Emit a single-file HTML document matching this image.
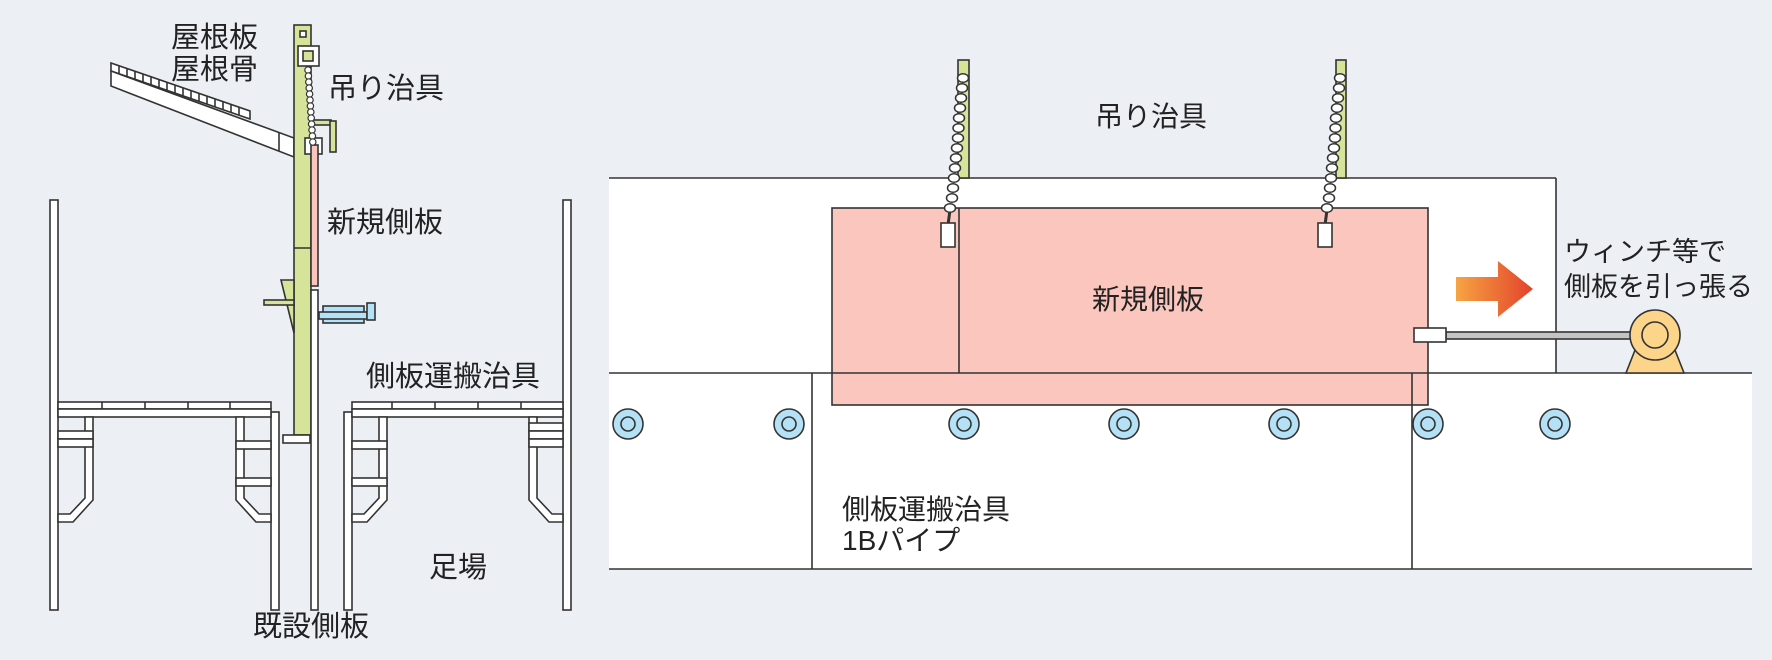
<!DOCTYPE html>
<html><head><meta charset="utf-8"><style>
html,body{margin:0;padding:0;background:#ecf0f5;}
svg{display:block;}
text{font-family:"Liberation Sans","Noto Sans CJK JP",sans-serif;fill:#222;}
</style></head><body>
<svg width="1772" height="660" viewBox="0 0 1772 660" xmlns="http://www.w3.org/2000/svg">
<defs>
<linearGradient id="ag" x1="0" x2="1" y1="0" y2="0"><stop offset="0" stop-color="#f6a443"/><stop offset="1" stop-color="#e2432a"/></linearGradient>
</defs>
<rect width="1772" height="660" fill="#ecf0f5"/>
<g stroke="#333" stroke-width="1.6">
<polygon points="111,63 250,111 250,119 111,71" fill="#fff"/>
<g fill="none">
<line x1="119" y1="66" x2="119" y2="74"/><line x1="127" y1="69" x2="127" y2="77"/><line x1="135" y1="71" x2="135" y2="79"/><line x1="143" y1="74" x2="143" y2="82"/><line x1="151" y1="77" x2="151" y2="85"/><line x1="159" y1="80" x2="159" y2="88"/><line x1="167" y1="82" x2="167" y2="90"/><line x1="175" y1="85" x2="175" y2="93"/><line x1="183" y1="88" x2="183" y2="96"/><line x1="191" y1="91" x2="191" y2="99"/><line x1="199" y1="93" x2="199" y2="101"/><line x1="207" y1="96" x2="207" y2="104"/><line x1="215" y1="99" x2="215" y2="107"/><line x1="223" y1="102" x2="223" y2="110"/><line x1="231" y1="104" x2="231" y2="112"/><line x1="239" y1="107" x2="239" y2="115"/>
</g>
<polygon points="111,71 294,138 294,157 111,86" fill="#fff"/>
<line x1="279" y1="133" x2="279" y2="151"/>
<rect x="294" y="25" width="17" height="410" fill="#d6e49a"/>
<line x1="294" y1="248" x2="311" y2="248"/>
<rect x="300" y="31" width="6" height="6" fill="#fff"/>
<rect x="298" y="46" width="21" height="20" fill="#fff"/>
<rect x="303" y="51" width="10" height="10" fill="#d6e49a"/>
<rect x="311" y="120" width="20" height="5" fill="#d6e49a"/>
<rect x="330" y="121" width="6" height="31" fill="#d6e49a"/>
<rect x="305" y="138" width="17" height="16" fill="#fff"/>
<rect x="311" y="145" width="7" height="141" fill="#f9c5bd"/>
<g fill="#fff" stroke-width="1.2">
<circle cx="308" cy="70" r="3.2"/><circle cx="308.4" cy="76" r="3.2"/><circle cx="308.8" cy="82" r="3.2"/><circle cx="309.2" cy="88" r="3.2"/><circle cx="309.6" cy="94" r="3.2"/><circle cx="310" cy="100" r="3.2"/><circle cx="310.4" cy="106" r="3.2"/><circle cx="310.8" cy="112" r="3.2"/><circle cx="311.2" cy="118" r="3.2"/><circle cx="311.6" cy="124" r="3.2"/><circle cx="312" cy="130" r="3.2"/><circle cx="312.4" cy="136" r="3.2"/><circle cx="312.8" cy="142" r="3.2"/>
</g>
<rect x="311" y="290" width="7" height="320" fill="#fff"/>
<polygon points="281,280 294,280 294,333" fill="#d6e49a"/>
<rect x="264" y="300" width="30" height="5" fill="#d6e49a"/>
<rect x="323" y="306" width="41" height="17" fill="#b5e1f6"/>
<rect x="319" y="312" width="48" height="7" fill="#b5e1f6"/>
<rect x="367" y="303" width="8" height="17" fill="#b5e1f6"/>
<rect x="283" y="435" width="27" height="8" fill="#fff"/>
<g fill="#fff">
<rect x="50" y="200" width="8" height="410"/>
<rect x="271" y="412" width="8" height="198"/>
<rect x="58" y="402" width="213" height="7"/>
<rect x="58" y="409" width="213" height="8"/>
<line x1="102" y1="402" x2="102" y2="409"/><line x1="145" y1="402" x2="145" y2="409"/><line x1="188" y1="402" x2="188" y2="409"/><line x1="230" y1="402" x2="230" y2="409"/>
<path d="M85,417 H93 V500 L73,522 H58 V514 H70 L85,498 Z"/>
<rect x="58" y="431" width="35" height="8"/><rect x="58" y="439" width="35" height="8"/>
<path d="M236,417 H244 V498 L259,514 H271 V522 H256 L236,500 Z"/>
<rect x="236" y="441" width="35" height="8"/><rect x="236" y="478" width="35" height="8"/>
<rect x="563" y="200" width="8" height="410"/>
<rect x="344" y="412" width="8" height="198"/>
<rect x="352" y="402" width="211" height="7"/>
<rect x="352" y="409" width="211" height="8"/>
<line x1="392" y1="402" x2="392" y2="409"/><line x1="435" y1="402" x2="435" y2="409"/><line x1="478" y1="402" x2="478" y2="409"/><line x1="521" y1="402" x2="521" y2="409"/>
<path d="M379,417 H387 V500 L367,522 H352 V514 H364 L379,498 Z"/>
<rect x="352" y="441" width="35" height="8"/><rect x="352" y="478" width="35" height="8"/>
<path d="M529,417 H537 V498 L552,514 H563 V522 H549 L529,500 Z"/>
<rect x="529" y="423" width="34" height="8"/><rect x="529" y="431" width="34" height="8"/><rect x="529" y="439" width="34" height="8"/>
</g>
</g>
<g font-size="29">
<text x="171" y="47">屋根板</text>
<text x="171" y="79">屋根骨</text>
<text x="328" y="98">吊り治具</text>
<text x="327" y="232">新規側板</text>
<text x="366" y="386">側板運搬治具</text>
<text x="429" y="577">足場</text>
<text x="253" y="636">既設側板</text>
</g>

<g stroke="#333" stroke-width="1.6">
<rect x="609" y="178" width="947" height="195" fill="#fff" stroke="none"/>
<rect x="609" y="373" width="1143" height="196" fill="#fff" stroke="none"/>
<line x1="609" y1="178" x2="1556" y2="178"/>
<line x1="1556" y1="178" x2="1556" y2="373"/>
<rect x="832" y="208" width="596" height="197" fill="#fbc6be"/>
<line x1="959" y1="208" x2="959" y2="373"/>
<line x1="609" y1="373" x2="1752" y2="373"/>
<line x1="609" y1="569" x2="1752" y2="569"/>
<line x1="812" y1="373" x2="812" y2="569"/>
<line x1="1412" y1="373" x2="1412" y2="569"/>
<rect x="958" y="60" width="11" height="118" fill="#d6e49a"/>
<rect x="1336" y="60" width="10" height="118" fill="#d6e49a"/>
<line x1="950" y1="210" x2="948" y2="225" stroke-width="3"/>
<line x1="1327" y1="210" x2="1325" y2="225" stroke-width="3"/>
<rect x="941" y="223" width="14" height="24" fill="#fff"/>
<rect x="1318" y="223" width="14" height="24" fill="#fff"/>
<g fill="#fff" stroke-width="1.5">
<ellipse cx="963" cy="78" rx="5.5" ry="4.3"/><ellipse cx="962" cy="88" rx="5.5" ry="4.3"/><ellipse cx="961" cy="98" rx="5.5" ry="4.3"/><ellipse cx="960" cy="108" rx="5.5" ry="4.3"/><ellipse cx="959" cy="118" rx="5.5" ry="4.3"/><ellipse cx="958.5" cy="128" rx="5.5" ry="4.3"/><ellipse cx="958" cy="138" rx="5.5" ry="4.3"/><ellipse cx="957" cy="148" rx="5.5" ry="4.3"/><ellipse cx="956" cy="158" rx="5.5" ry="4.3"/><ellipse cx="955" cy="168" rx="5.5" ry="4.3"/><ellipse cx="954" cy="178" rx="5.5" ry="4.3"/><ellipse cx="953" cy="188" rx="5.5" ry="4.3"/><ellipse cx="952" cy="198" rx="5.5" ry="4.3"/><ellipse cx="950" cy="208" rx="5.5" ry="4.3"/>
<ellipse cx="1340" cy="78" rx="5.5" ry="4.3"/><ellipse cx="1339" cy="88" rx="5.5" ry="4.3"/><ellipse cx="1338" cy="98" rx="5.5" ry="4.3"/><ellipse cx="1337" cy="108" rx="5.5" ry="4.3"/><ellipse cx="1336" cy="118" rx="5.5" ry="4.3"/><ellipse cx="1335.5" cy="128" rx="5.5" ry="4.3"/><ellipse cx="1335" cy="138" rx="5.5" ry="4.3"/><ellipse cx="1334" cy="148" rx="5.5" ry="4.3"/><ellipse cx="1333" cy="158" rx="5.5" ry="4.3"/><ellipse cx="1332" cy="168" rx="5.5" ry="4.3"/><ellipse cx="1331" cy="178" rx="5.5" ry="4.3"/><ellipse cx="1330" cy="188" rx="5.5" ry="4.3"/><ellipse cx="1329" cy="198" rx="5.5" ry="4.3"/><ellipse cx="1327" cy="208" rx="5.5" ry="4.3"/>
</g>
<g fill="#b5e1f6">
<circle cx="628" cy="424" r="15"/><circle cx="628" cy="424" r="7"/>
<circle cx="789" cy="424" r="15"/><circle cx="789" cy="424" r="7"/>
<circle cx="964" cy="424" r="15"/><circle cx="964" cy="424" r="7"/>
<circle cx="1124" cy="424" r="15"/><circle cx="1124" cy="424" r="7"/>
<circle cx="1284" cy="424" r="15"/><circle cx="1284" cy="424" r="7"/>
<circle cx="1428" cy="424" r="15"/><circle cx="1428" cy="424" r="7"/>
<circle cx="1555" cy="424" r="15"/><circle cx="1555" cy="424" r="7"/>
</g>
<rect x="1446" y="332" width="186" height="7" fill="#c4c4c4"/>
<rect x="1414" y="328" width="32" height="14" fill="#fff"/>
<polygon points="1637,345 1673,345 1684,373 1626,373" fill="#fdd58a"/>
<circle cx="1655" cy="335" r="25" fill="#fdd58a"/>
<circle cx="1655" cy="335" r="13" fill="#fdd58a"/>
</g>
<polygon points="1456,277 1498,277 1498,261 1533,289 1498,317 1498,301 1456,301" fill="url(#ag)"/>
<g font-size="28">
<text x="1151" y="126" text-anchor="middle">吊り治具</text>
<text x="1148" y="309" text-anchor="middle">新規側板</text>
<text x="842" y="519">側板運搬治具</text>
<text x="842" y="550">1Bパイプ</text>
</g>
<g font-size="27">
<text x="1564" y="261">ウィンチ等で</text>
<text x="1564" y="296">側板を引っ張る</text>
</g>
</svg>
</body></html>
